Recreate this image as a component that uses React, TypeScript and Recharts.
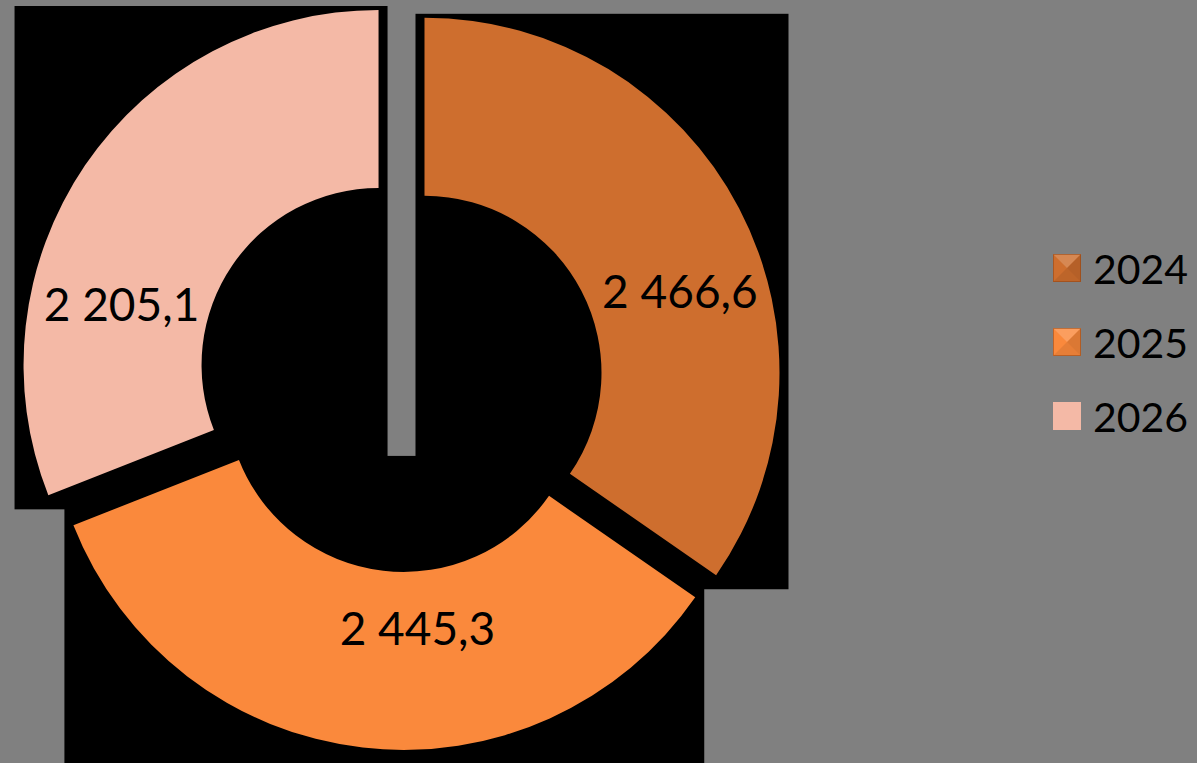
import React from "react";
import { PieChart, Pie, Cell, Legend, Sector } from "recharts";

// values and names
const YEARS = ["2024", "2025", "2026"];
const VALUES = [2466.6, 2445.3, 2205.1];
const LABELS = ["2 466,6", "2 445,3", "2 205,1"];
const COLORS = ["#CE6E2E", "#FA893C", "#F4B9A6"];

const data = YEARS.map((name, i) => ({ name, value: VALUES[i] }));

const W = 1197;
const H = 763;
const CX = 405;
const CY = 383;
const OUTER = 355;
const INNER = 177;
// how far each slice is pulled out of the ring
const EXPLODE = [22, 12, 32];
// label placement relative to the slice: angle nudge (deg) and radius
const LABEL_NUDGE = [-10, 10, 21];
const LABEL_RADIUS = [268, 234, 264];
const RADIAN = Math.PI / 180;

const idxOf = (p: any) => YEARS.indexOf(p?.payload?.name ?? p?.name);

const shifted = (p: any) => {
  const i = idxOf(p);
  const d = EXPLODE[i] ?? 0;
  return {
    x: p.cx + d * Math.cos(-p.midAngle * RADIAN),
    y: p.cy + d * Math.sin(-p.midAngle * RADIAN),
  };
};

// black box behind each slice, the bounding box of the pulled-out sector
const renderBox = (p: any) => {
  const { x, y } = shifted(p);
  const lo = Math.min(p.startAngle, p.endAngle);
  const hi = Math.max(p.startAngle, p.endAngle);
  const angles = [lo, hi];
  for (let k = Math.ceil(lo / 90) * 90; k <= hi; k += 90) angles.push(k);
  const xs: number[] = [];
  const ys: number[] = [];
  angles.forEach((a) =>
    [p.innerRadius, p.outerRadius].forEach((r) => {
      xs.push(x + r * Math.cos(-a * RADIAN));
      ys.push(y + r * Math.sin(-a * RADIAN));
    })
  );
  const pad = 9;
  const x0 = Math.min(...xs) - pad;
  const y0 = Math.min(...ys) - pad + 5;
  return (
    <rect
      x={x0}
      y={y0}
      width={Math.max(...xs) - Math.min(...xs) + pad * 2}
      height={Math.max(...ys) - Math.min(...ys) + pad * 2}
      fill="#000"
    />
  );
};

const renderSlice = (p: any) => {
  const { x, y } = shifted(p);
  const i = idxOf(p);
  return <Sector {...p} cx={x} cy={y} fill={COLORS[i]} stroke="none" />;
};

const renderLabel = (p: any) => {
  const { x, y } = shifted(p);
  const i = idxOf(p);
  const a = (p.midAngle + LABEL_NUDGE[i]) * RADIAN;
  const r = LABEL_RADIUS[i];
  return (
    <text
      x={x + r * Math.cos(-a)}
      y={y + r * Math.sin(-a) + 16}
      textAnchor="middle"
      fill="#000"
      fontFamily="Lato, sans-serif"
      fontSize={46}
    >
      {LABELS[i]}
    </text>
  );
};

const LegendIcon = ({ color, bevel }: { color: string; bevel: boolean }) => (
  <svg width={28} height={28} style={{ display: "block" }}>
    <rect x={0} y={0} width={28} height={28} fill={color} />
    {bevel && (
      <>
        <polygon points="0,0 28,0 14,14" fill="#fff" opacity={0.18} />
        <polygon points="0,28 28,28 14,14" fill="#000" opacity={0.08} />
        <polygon points="28,0 28,28 14,14" fill="#000" opacity={0.12} />
        <rect x={0.5} y={0.5} width={27} height={27} fill="none" stroke="#8a3f12" strokeOpacity={0.5} />
      </>
    )}
  </svg>
);

const renderLegend = () => (
  <div style={{ fontFamily: "Lato, sans-serif", fontSize: 41, color: "#000" }}>
    {YEARS.map((y, i) => (
      <div key={y} style={{ display: "flex", alignItems: "center", height: 74 }}>
        <LegendIcon color={COLORS[i]} bevel={i < 2} />
        <span style={{ marginLeft: 12, lineHeight: 1 }}>{y}</span>
      </div>
    ))}
  </div>
);

export default function App() {
  return (
    <div
      style={{
        position: "fixed",
        left: 0,
        top: 0,
        width: W,
        height: H,
        background: "#808080",
        overflow: "hidden",
      }}
    >
      <PieChart width={W} height={H} margin={{ top: 0, right: 0, bottom: 0, left: 0 }}>
        <Pie
          data={data}
          dataKey="value"
          nameKey="name"
          cx={CX}
          cy={CY}
          innerRadius={INNER}
          outerRadius={OUTER}
          startAngle={90}
          endAngle={-270}
          stroke="none"
          legendType="none"
          isAnimationActive={false}
          shape={renderBox}
          activeShape={renderBox}
          inactiveShape={renderBox}
        />
        <Pie
          data={data}
          dataKey="value"
          nameKey="name"
          cx={CX}
          cy={CY}
          innerRadius={INNER}
          outerRadius={OUTER}
          startAngle={90}
          endAngle={-270}
          stroke="none"
          isAnimationActive={false}
          shape={renderSlice}
          activeShape={renderSlice}
          inactiveShape={renderSlice}
          label={renderLabel}
          labelLine={false}
        >
          {data.map((d, i) => (
            <Cell key={d.name} fill={COLORS[i]} />
          ))}
        </Pie>
        <Legend
          content={renderLegend}
          layout="vertical"
          align="right"
          verticalAlign="middle"
          wrapperStyle={{ left: 1053, top: 231, right: "auto", bottom: "auto", width: 144 }}
        />
      </PieChart>
    </div>
  );
}
